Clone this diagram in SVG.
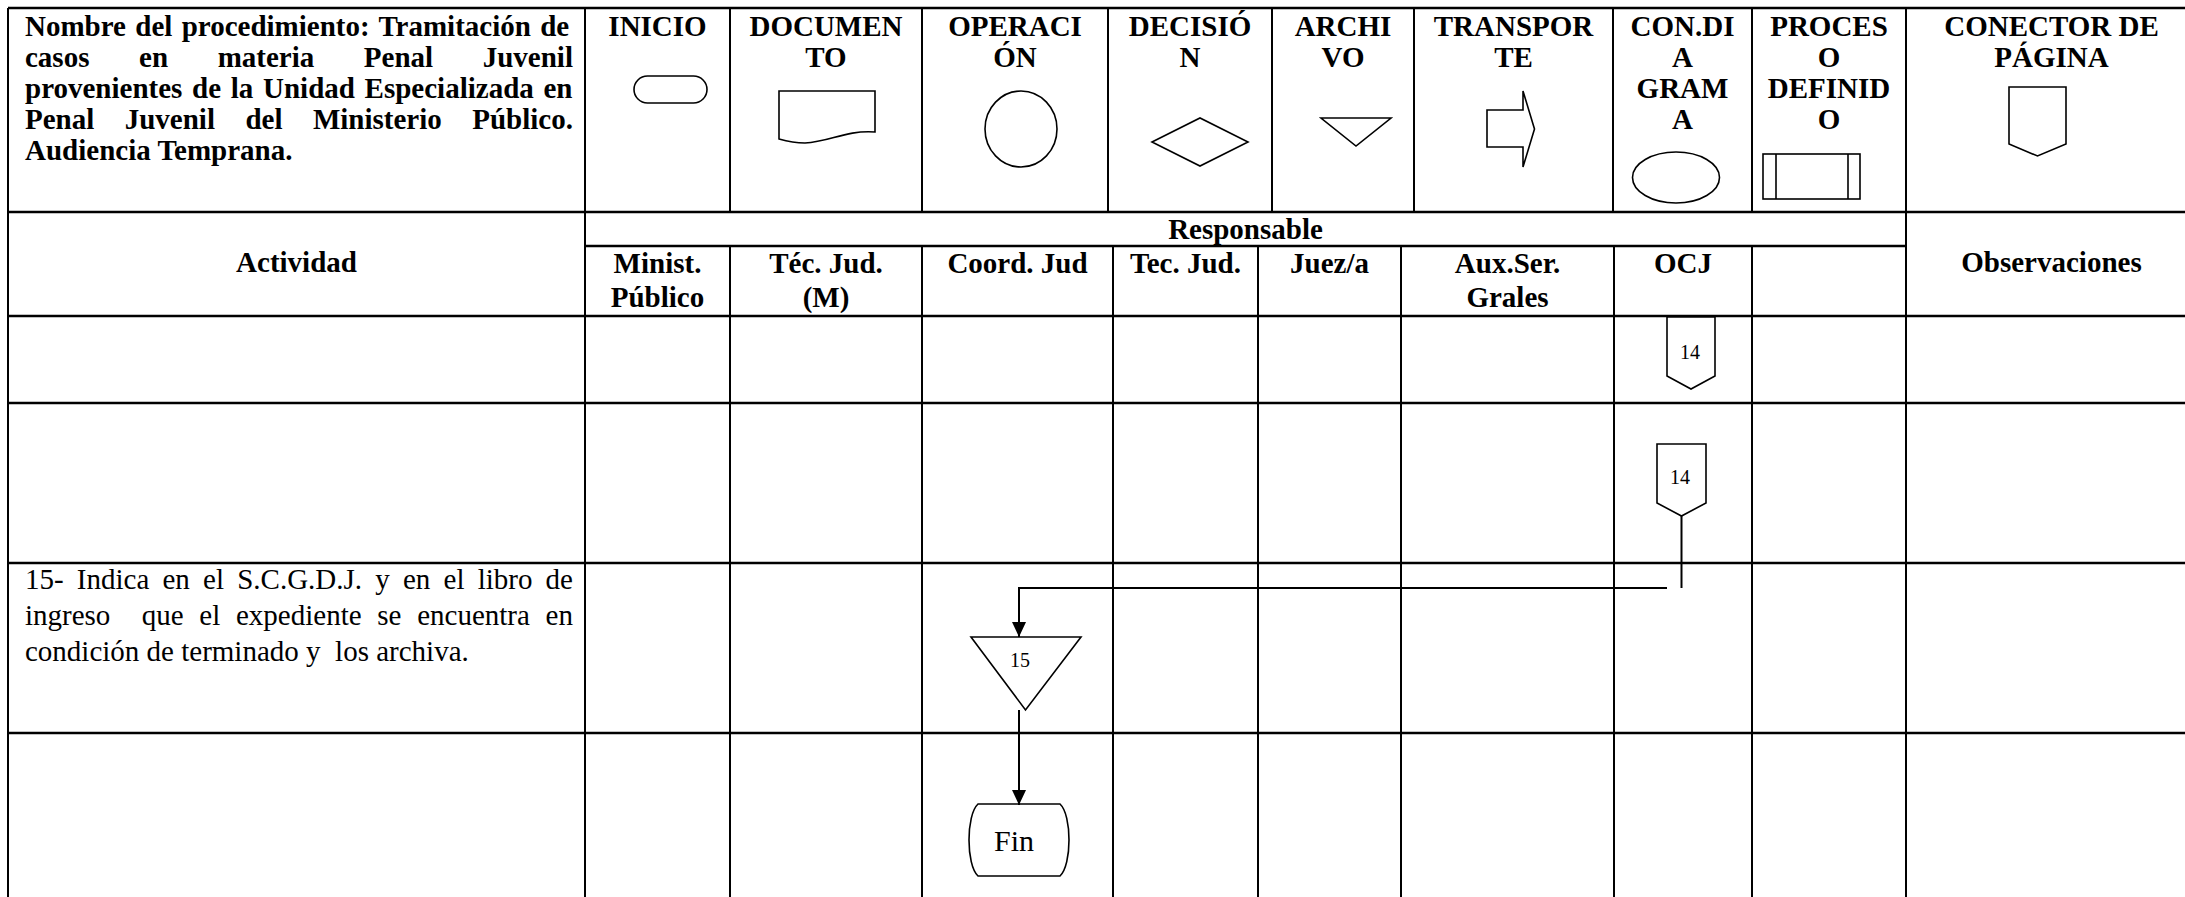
<svg xmlns="http://www.w3.org/2000/svg" width="2185" height="897" viewBox="0 0 2185 897">
<defs>
<style>
.v{stroke:#000;stroke-width:2;fill:none}
.h{stroke:#000;stroke-width:2.5;fill:none}
.sh{fill:#fff;stroke:#000;stroke-width:1.6}
.t{font-family:"Liberation Serif","Times New Roman",serif;fill:#000}
.b{font-weight:bold;font-size:29px}
.c{text-anchor:middle}
.r{font-size:29px}
.sm{font-size:20px;text-anchor:middle}
.cn{stroke:#000;stroke-width:2;fill:none}
</style>
<marker id="ah" markerUnits="userSpaceOnUse" markerWidth="16" markerHeight="16" refX="15" refY="7" orient="auto"><path d="M0,0 L15,7 L0,14 Z" fill="#000"/></marker>
</defs>
<rect width="2185" height="897" fill="#fff"/>
<g id="table">
<path class="h" d="M8,8 H2185 M8,212 H2185 M585,246 H1906 M8,316 H2185 M8,403 H2185 M8,563 H2185 M8,733 H2185"/>
<path class="v" d="M8,8 V897 M585,8 V897 M1906,8 V897 M730,8 V212 M922,8 V212 M1108,8 V212 M1272,8 V212 M1414,8 V212 M1613,8 V212 M1752,8 V212 M730,246 V897 M922,246 V897 M1113,246 V897 M1258,246 V897 M1401,246 V897 M1614,246 V897 M1752,246 V897"/>
</g>
<g id="title" class="t b">
<text x="25" y="36" word-spacing="2.08">Nombre del procedimiento: Tramitación de</text>
<text x="25" y="67" word-spacing="42.35">casos en materia Penal Juvenil</text>
<text x="25" y="98" word-spacing="2.45">provenientes de la Unidad Especializada en</text>
<text x="25" y="129" word-spacing="23.2">Penal Juvenil del Ministerio Público.</text>
<text x="25" y="160">Audiencia Temprana.</text>
</g>
<g id="legend-headers" class="t b c">
<text x="657.5" y="36">INICIO</text>
<text x="826" y="36">DOCUMEN<tspan x="826" y="67">TO</tspan></text>
<text x="1015" y="36">OPERACI<tspan x="1015" y="67">ÓN</tspan></text>
<text x="1190" y="36">DECISIÓ<tspan x="1190" y="67">N</tspan></text>
<text x="1343" y="36">ARCHI<tspan x="1343" y="67">VO</tspan></text>
<text x="1513.5" y="36">TRANSPOR<tspan x="1513.5" y="67">TE</tspan></text>
<text x="1682.5" y="36">CON.DI<tspan x="1682.5" y="67">A</tspan><tspan x="1682.5" y="98">GRAM</tspan><tspan x="1682.5" y="129">A</tspan></text>
<text x="1829" y="36">PROCES<tspan x="1829" y="67">O</tspan><tspan x="1829" y="98">DEFINID</tspan><tspan x="1829" y="129">O</tspan></text>
<text x="2051.5" y="36">CONECTOR DE<tspan x="2051.5" y="67">PÁGINA</tspan></text>
</g>
<g id="legend-shapes">
<rect id="sym-inicio" class="sh" x="634" y="76" width="73" height="27" rx="13.5"/>
<path id="sym-documento" class="sh" d="M779,91 H875 V132 C845,130 830,142 805,143 C795,143 786,141 779,139 Z"/>
<ellipse id="sym-operacion" class="sh" cx="1021" cy="129" rx="36" ry="38"/>
<path id="sym-decision" class="sh" d="M1152,142 L1200,118 L1248,142 L1200,166 Z"/>
<path id="sym-archivo" class="sh" d="M1321,118 H1391 L1356,146 Z"/>
<path id="sym-transporte" class="sh" d="M1487,110 H1523 V91 L1534.5,129 L1523,167 V147 H1487 Z"/>
<ellipse id="sym-condiagrama" class="sh" cx="1676" cy="177.5" rx="43.5" ry="25.5"/>
<g id="sym-proceso"><rect class="sh" x="1763" y="154" width="97" height="45"/><path class="sh" d="M1776,154 V199 M1848,154 V199"/></g>
<path id="sym-conector" class="sh" d="M2009,87 H2066 V144 L2037.5,156 L2009,144 Z"/>
</g>
<g id="column-headers" class="t b c">
<text x="296.5" y="272">Actividad</text>
<text x="1245.5" y="239">Responsable</text>
<text x="657.5" y="273">Minist.<tspan x="657.5" y="307">Público</tspan></text>
<text x="826" y="273">Téc. Jud.<tspan x="826" y="307">(M)</tspan></text>
<text x="1017.5" y="273">Coord. Jud</text>
<text x="1185.5" y="273">Tec. Jud.</text>
<text x="1329.5" y="273">Juez/a</text>
<text x="1507.5" y="273">Aux.Ser.<tspan x="1507.5" y="307">Grales</tspan></text>
<text x="1683" y="273">OCJ</text>
<text x="2051.5" y="272">Observaciones</text>
</g>
<g id="activity-15" class="t r">
<text x="25" y="589" word-spacing="5.94">15- Indica en el S.C.G.D.J. y en el libro de</text>
<text y="625"><tspan x="25">ingreso</tspan><tspan x="141.8" word-spacing="8.45">que el expediente se encuentra en</tspan></text>
<text y="661"><tspan x="25">condición de terminado y</tspan><tspan x="335.1">los archiva.</tspan></text>
</g>
<g id="connector-14a">
<path class="sh" d="M1667,317 H1715 V376 L1691,389 L1667,376 Z"/>
<text class="t sm" x="1690" y="359">14</text>
</g>
<g id="connector-14b">
<path class="sh" d="M1657,444 H1706 V503 L1681.5,516 L1657,503 Z"/>
<text class="t sm" x="1680" y="484">14</text>
</g>
<g id="archivo-15">
<path class="sh" d="M971,637 H1081 L1025.5,710 Z"/>
<text class="t sm" x="1020" y="667">15</text>
</g>
<g id="fin">
<path class="sh" d="M978,804 H1060 C1072,815 1072,865 1060,876 H978 C966,865 966,815 978,804 Z"/>
<text class="t c" x="1014" y="851" font-size="30">Fin</text>
</g>
<g id="connectors">
<path class="cn" d="M1681.5,516 V588"/>
<path class="cn" d="M1667,588 H1019 V637" marker-end="url(#ah)"/>
<path class="cn" d="M1019,710 V805" marker-end="url(#ah)"/>
</g>
</svg>
